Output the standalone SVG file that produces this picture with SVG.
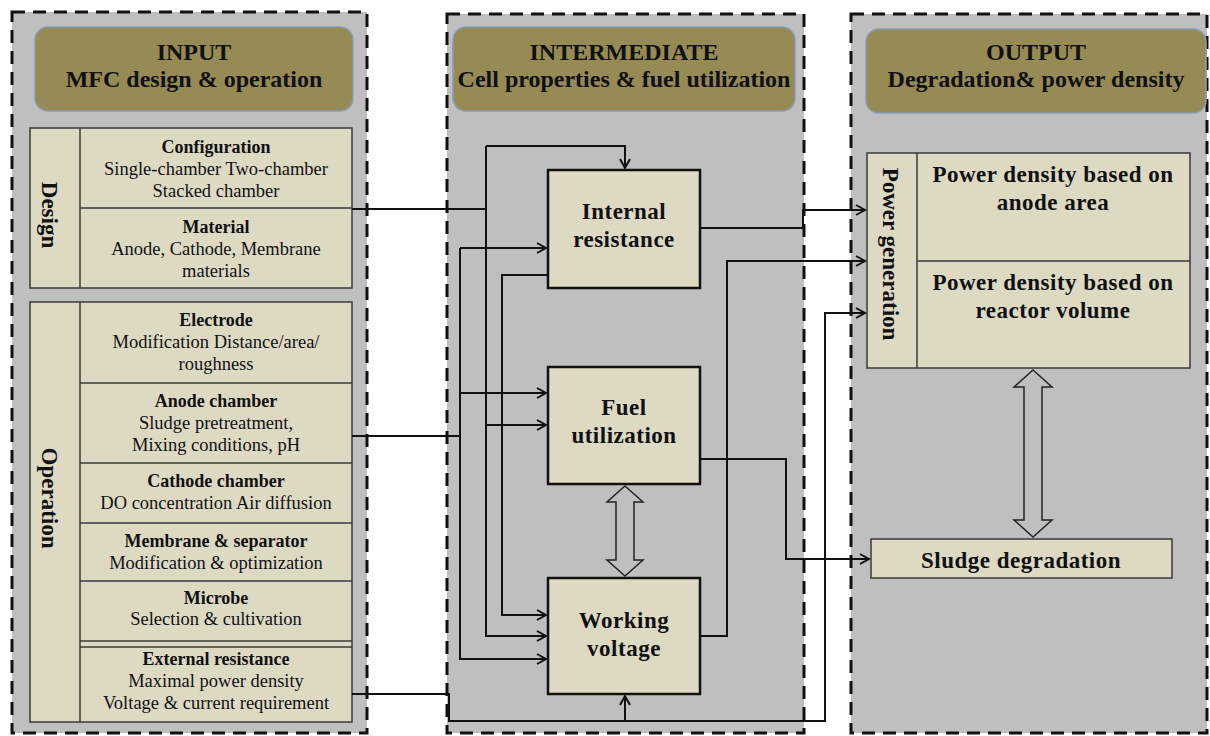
<svg xmlns="http://www.w3.org/2000/svg" width="1210" height="736" viewBox="0 0 1210 736">
<style>
.panel{fill:#bfbfbf;stroke:#111;stroke-width:3;stroke-dasharray:13 8}
.hdr{fill:#968a55;stroke:#8a9cb2;stroke-width:1.5}
.hdrt{font-family:"Liberation Serif",serif;font-weight:bold;font-size:24px;fill:#111;text-anchor:middle}
.tbl{fill:#ddd9c3;stroke:#3a3a3a;stroke-width:1.5}
.ln{stroke:#3a3a3a;stroke-width:1.5;fill:none}
.tt{font-family:"Liberation Serif",serif;font-weight:bold;font-size:18px;fill:#111;text-anchor:middle}
.tb{font-family:"Liberation Serif",serif;font-size:18.5px;fill:#111;text-anchor:middle}
.side{font-family:"Liberation Serif",serif;font-weight:bold;font-size:23px;fill:#111;text-anchor:middle}
.box{fill:#ddd9c3;stroke:#111;stroke-width:2.5}
.bt{font-family:"Liberation Serif",serif;font-weight:bold;font-size:23px;letter-spacing:0.5px;fill:#111;text-anchor:middle}
.con{stroke:#111;stroke-width:2;fill:none}
.arr{stroke:#111;stroke-width:2;fill:none;marker-end:url(#ah)}
.dbl{fill:#bfbfbf;stroke:#222;stroke-width:1.5}
</style>
<defs>
<marker id="ah" markerUnits="userSpaceOnUse" markerWidth="14" markerHeight="14" refX="10" refY="6" orient="auto">
<path d="M1,1 L10,6 L1,11" fill="none" stroke="#111" stroke-width="2"/>
</marker>
</defs>

<g id="panel-input">
<rect class="panel" x="12" y="12" width="355" height="721"/>
<rect class="hdr" x="35" y="27" width="318" height="84" rx="13"/>
<text class="hdrt" x="194" y="60">INPUT</text>
<text class="hdrt" x="194" y="87">MFC design &amp; operation</text>
</g>
<g id="panel-intermediate">
<rect class="panel" x="447" y="14" width="357" height="719"/>
<rect class="hdr" x="453" y="27" width="342" height="84" rx="13"/>
<text class="hdrt" x="624" y="60">INTERMEDIATE</text>
<text class="hdrt" x="624" y="87">Cell properties &amp; fuel utilization</text>
</g>
<g id="panel-output">
<rect class="panel" x="851" y="14" width="356" height="719"/>
<rect class="hdr" x="866" y="29" width="340" height="84" rx="13"/>
<text class="hdrt" x="1036" y="60">OUTPUT</text>
<text class="hdrt" x="1036" y="87">Degradation&amp; power density</text>
</g>

<g id="design">
<rect class="tbl" x="30" y="128" width="322" height="160"/>
<path class="ln" d="M80,128 V288 M80,208 H352"/>
<text class="side" transform="translate(50,215) rotate(90)" y="8">Design</text>
<text class="tt" x="216" y="153">Configuration</text>
<text class="tb" x="216" y="175">Single-chamber Two-chamber</text>
<text class="tb" x="216" y="197">Stacked chamber</text>
<text class="tt" x="216" y="233">Material</text>
<text class="tb" x="216" y="255">Anode, Cathode, Membrane</text>
<text class="tb" x="216" y="277">materials</text>
</g>

<g id="operation">
<rect class="tbl" x="30" y="302" width="322" height="420"/>
<path class="ln" d="M80,302 V722 M80,383 H352 M80,463 H352 M80,523 H352 M80,581 H352 M80,641 H352 M80,647 H352"/>
<text class="side" transform="translate(50,498) rotate(90)" y="8">Operation</text>
<text class="tt" x="216" y="326">Electrode</text>
<text class="tb" x="216" y="348">Modification Distance/area/</text>
<text class="tb" x="216" y="370">roughness</text>
<text class="tt" x="216" y="407">Anode chamber</text>
<text class="tb" x="216" y="429">Sludge pretreatment,</text>
<text class="tb" x="216" y="451">Mixing conditions, pH</text>
<text class="tt" x="216" y="487">Cathode chamber</text>
<text class="tb" x="216" y="509">DO concentration Air diffusion</text>
<text class="tt" x="216" y="547">Membrane &amp; separator</text>
<text class="tb" x="216" y="569">Modification &amp; optimization</text>
<text class="tt" x="216" y="604">Microbe</text>
<text class="tb" x="216" y="625">Selection &amp; cultivation</text>
<text class="tt" x="216" y="665">External resistance</text>
<text class="tb" x="216" y="687">Maximal power density</text>
<text class="tb" x="216" y="709">Voltage &amp; current requirement</text>
</g>

<g id="internal-resistance">
<rect class="box" x="548" y="170" width="152" height="118"/>
<text class="bt" x="624" y="219">Internal</text>
<text class="bt" x="624" y="247">resistance</text>
</g>
<g id="fuel-utilization">
<rect class="box" x="548" y="367" width="152" height="117"/>
<text class="bt" x="624" y="415">Fuel</text>
<text class="bt" x="624" y="443">utilization</text>
</g>
<g id="working-voltage">
<rect class="box" x="548" y="578" width="152" height="116"/>
<text class="bt" x="624" y="628">Working</text>
<text class="bt" x="624" y="656">voltage</text>
</g>

<g id="power-generation">
<rect class="tbl" x="867" y="153" width="323" height="215"/>
<path class="ln" d="M917,153 V368 M917,261 H1190"/>
<text class="side" transform="translate(891,254) rotate(90)" y="8">Power generation</text>
<text class="bt" x="1053" y="182">Power density based on</text>
<text class="bt" x="1053" y="210">anode area</text>
<text class="bt" x="1053" y="290">Power density based on</text>
<text class="bt" x="1053" y="318">reactor volume</text>
</g>
<g id="sludge-degradation">
<rect class="tbl" x="871" y="539" width="301" height="39"/>
<text class="bt" x="1021" y="568">Sludge degradation</text>
</g>

<g id="connectors">
<path class="con" d="M352,209 H486"/>
<path class="arr" d="M486,146 H625 V168"/>
<path class="arr" d="M486,146 V636 H546"/>
<path class="arr" d="M486,425 H546"/>
<path class="con" d="M352,436 H460"/>
<path class="arr" d="M460,248 H546"/>
<path class="arr" d="M460,248 V659 H546"/>
<path class="arr" d="M460,393 H546"/>
<path class="arr" d="M548,275 H502 V615 H546"/>
<path class="arr" d="M700,228 H803 V210 H865"/>
<path class="arr" d="M700,636 H727 V261 H865"/>
<path class="arr" d="M700,459 H786 V559 H869"/>
<path class="arr" d="M352,694 H449 V721 H825 V313 H865"/>
<path class="arr" d="M625,721 V696"/>
<polygon class="dbl" points="625,486 643,502 634,502 634,560 643,560 625,576 607,560 616,560 616,502 607,502"/>
<polygon class="dbl" points="1033,370 1052,387 1042,387 1042,520 1052,520 1033,537 1014,520 1024,520 1024,387 1014,387"/>
</g>
</svg>
